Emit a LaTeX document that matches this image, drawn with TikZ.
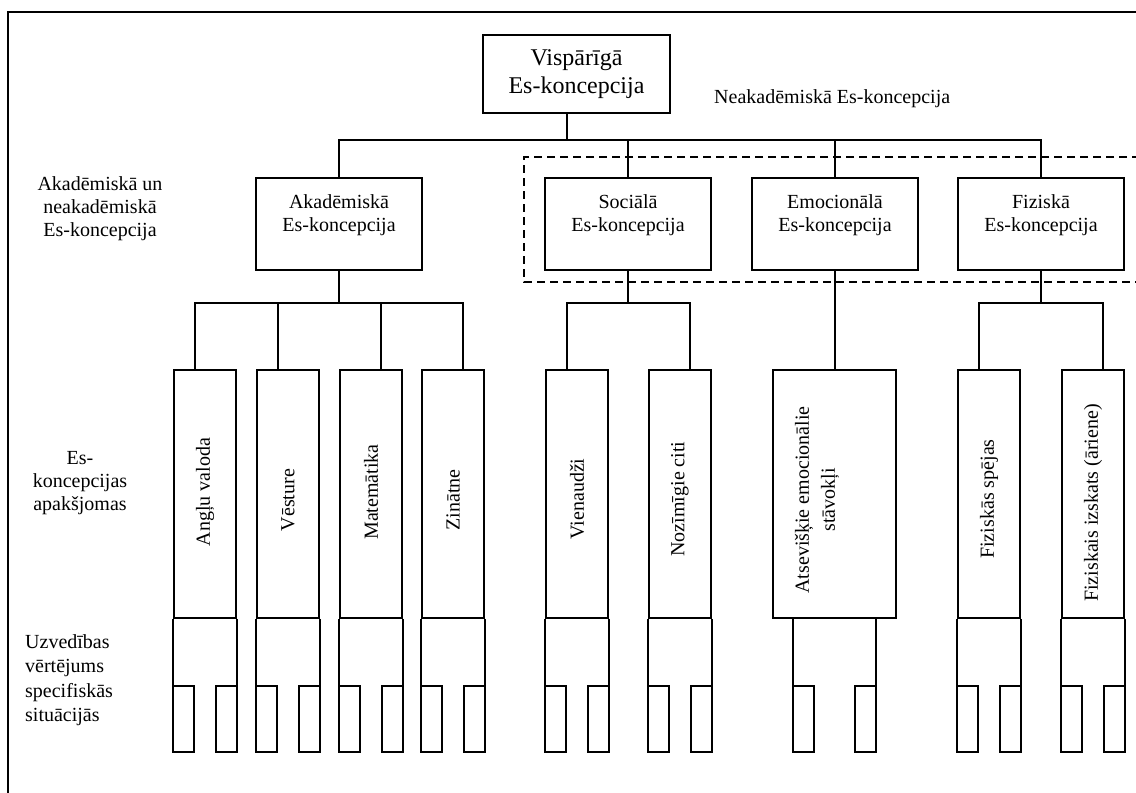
\documentclass[tikz,border=0pt]{standalone}
\usepackage{fontspec}
\setmainfont{Liberation Serif}
\usetikzlibrary{calc}
\begin{document}
\begin{tikzpicture}[x=1pt,y=-1pt,
  conn/.style={line width=1.9pt},
  box/.style={draw, line width=1.9pt, inner sep=0pt},
  txt/.style={align=center, inner sep=0pt, font=\fontsize{20}{23}\selectfont},
  bigtxt/.style={align=center, inner sep=0pt, font=\fontsize{24}{28}\selectfont},
  rot/.style={rotate=90, inner sep=0pt, align=center, font=\fontsize{20}{26}\selectfont},
  leaf/.style={box, minimum width=62pt, minimum height=248pt},
  lvl/.style={box, minimum width=166pt, minimum height=92pt},
  ]
\useasboundingbox (0,0) rectangle (1136,793);
% frame
\draw[line width=2pt] (7,12) -- (1140,12);
\draw[line width=2pt] (8,12) -- (8,800);
% level 1
\node[box, minimum width=187pt, minimum height=78pt] (visp) at (576.5,74) {};
\node[bigtxt] (vispT) at (576.5,74) {Vispārīgā\\Es-koncepcija};
\node[txt, anchor=west] (neak) at (714,99) {Neakadēmiskā Es-koncepcija};
% dashed region
\draw[line width=1.7pt, dash pattern=on 8pt off 5pt] (1140,157) -- (524,157) -- (524,282) -- (1140,282);
% level 2
\node[lvl] (akad) at (339,224) {};
\node[lvl] (soc) at (628,224) {};
\node[lvl] (emo) at (835,224) {};
\node[lvl] (fiz) at (1041,224) {};
\node[txt] (akadT) at (339,215) {Akadēmiskā\\Es-koncepcija};
\node[txt] (socT) at (628,215) {Sociālā\\Es-koncepcija};
\node[txt] (emoT) at (835,215) {Emocionālā\\Es-koncepcija};
\node[txt] (fizT) at (1041,215) {Fiziskā\\Es-koncepcija};
% level 1 -> level 2
\coordinate (bus0) at (567,140);
\draw[conn] (visp.south -| bus0) -- (bus0);
\draw[conn] (akad.north) |- (bus0) -| (fiz.north);
\draw[conn] (soc.north) -- (soc.north |- bus0);
\draw[conn] (emo.north) -- (emo.north |- bus0);
% leaves
\node[leaf] (angl) at (205,494) {};
\node[leaf] (vest) at (288,494) {};
\node[leaf] (mat) at (371,494) {};
\node[leaf] (zin) at (453,494) {};
\node[leaf] (vien) at (577,494) {};
\node[leaf] (noz) at (680,494) {};
\node[box, minimum width=123pt, minimum height=248pt] (ats) at (834.5,494) {};
\node[leaf] (fsp) at (989,494) {};
\node[leaf] (fizi) at (1093,494) {};
\node[rot] (anglT) at (205,492) {Angļu valoda};
\node[rot] (vestT) at (288,500) {Vēsture};
\node[rot] (matT) at (371,492) {Matemātika};
\node[rot] (zinT) at (453,500) {Zinātne};
\node[rot] (vienT) at (577,499) {Vienaudži};
\node[rot] (nozT) at (680,499) {Nozīmīgie citi};
\node[rot] (atsT) at (817,500) {Atsevišķie emocionālie\\stāvokļi};
\node[rot] (fspT) at (989,499) {Fiziskās spējas};
\node[rot] (fiziT) at (1093,503) {Fiziskais izskats (āriene)};
% level 2 -> leaves
\coordinate (akL) at (195,303);
\coordinate (akR) at (463,303);
\coordinate (akV) at (278,303);
\coordinate (akM) at (381,303);
\draw[conn] (akad.south) -- (akad.south |- akL);
\draw[conn] (angl.north -| akL) -- (akL) -- (akR) -- (zin.north -| akR);
\draw[conn] (akV) -- (vest.north -| akV);
\draw[conn] (akM) -- (mat.north -| akM);
\coordinate (soL) at (567,303);
\coordinate (soR) at (690,303);
\draw[conn] (soc.south) -- (soc.south |- soL);
\draw[conn] (vien.north -| soL) -- (soL) -- (soR) -- (noz.north -| soR);
\draw[conn] (emo.south) -- (ats.north -| emo.south);
\coordinate (fiL) at (979,303);
\coordinate (fiR) at (1103,303);
\draw[conn] (fiz.south) -- (fiz.south |- fiL);
\draw[conn] (fsp.north -| fiL) -- (fiL) -- (fiR) -- (fizi.north -| fiR);
% lower forks
\foreach \n in {angl,vest,mat,zin,vien,noz,fsp,fizi}{
  \draw[conn] (\n.south west) -- ++(0,133) -- ++(21,0) -- ++(0,-66) -- ++(-21,0);
  \draw[conn] (\n.south east) -- ++(0,133) -- ++(-21,0) -- ++(0,-66) -- ++(21,0);
}
\draw[conn] ($(ats.south)+(-41.5,0)$) -- ++(0,133) -- ++(21,0) -- ++(0,-66) -- ++(-21,0);
\draw[conn] ($(ats.south)+(41.5,0)$) -- ++(0,133) -- ++(-21,0) -- ++(0,-66) -- ++(21,0);
% left labels
\node[txt] (lab1) at (100,209) {Akadēmiskā un\\neakadēmiskā\\Es-koncepcija};
\node[txt] (lab2) at (80,483) {Es-\\koncepcijas\\apakšjomas};
\node[txt, align=left, anchor=west, font=\fontsize{20}{24.5}\selectfont] (lab3) at (25,680) {Uzvedības\\vērtējums\\specifiskās\\situācijās};
\end{tikzpicture}
\end{document}
